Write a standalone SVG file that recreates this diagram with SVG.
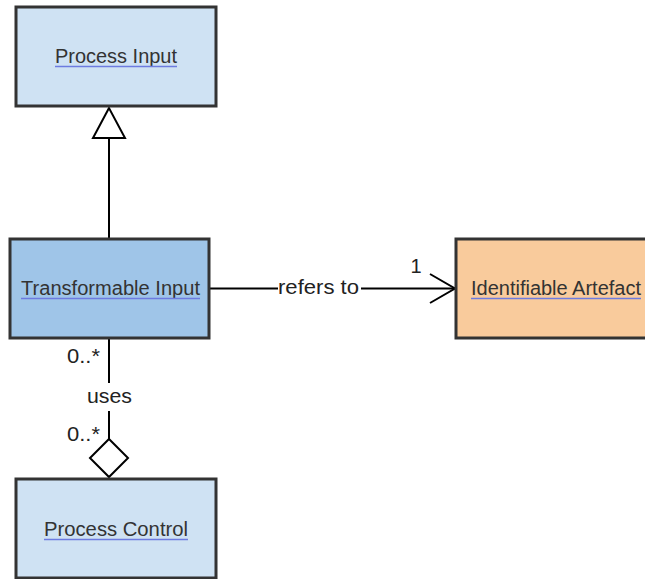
<svg xmlns="http://www.w3.org/2000/svg" width="645" height="579" viewBox="0 0 645 579">
<style>
.box{stroke:#333;stroke-width:3}
.lbl{font-family:"Liberation Sans",Arial,sans-serif;font-size:19.5px;fill:#333;text-anchor:middle}
.ul{stroke:#6d7be0;stroke-width:1.3}
.ln{stroke:#000;stroke-width:2;fill:none}
.t{font-family:"Liberation Sans",Arial,sans-serif;font-size:20px;fill:#222;text-anchor:middle}
</style>
<rect width="645" height="579" fill="#fff"/>
<g id="connectors">
<line class="ln" x1="109" y1="138" x2="109" y2="239"/>
<polygon points="109,108 93,138 125,138" fill="#fff" stroke="#000" stroke-width="2"/>
<line class="ln" x1="209" y1="288.5" x2="278" y2="288.5"/>
<line class="ln" x1="361" y1="288.5" x2="455" y2="288.5"/>
<polyline class="ln" points="430,274 455,288.5 430,303"/>
<text class="t" x="318.5" y="294" textLength="81" lengthAdjust="spacingAndGlyphs">refers to</text>
<text class="t" x="416" y="273">1</text>
<line class="ln" x1="109" y1="338" x2="109" y2="383"/>
<text class="t" x="109.5" y="403" textLength="45" lengthAdjust="spacingAndGlyphs">uses</text>
<line class="ln" x1="109" y1="411" x2="109" y2="439"/>
<polygon points="109,439 128,458 109,477 90,458" fill="#fff" stroke="#000" stroke-width="2"/>
<text class="t" x="83.5" y="363" textLength="33" lengthAdjust="spacingAndGlyphs">0..*</text>
<text class="t" x="83.5" y="441" textLength="33" lengthAdjust="spacingAndGlyphs">0..*</text>
</g>
<g id="process-input">
<rect class="box" x="16" y="7" width="200" height="99" fill="#cfe2f3"/>
<text class="lbl" x="116" y="63" textLength="122" lengthAdjust="spacingAndGlyphs">Process Input</text>
<line class="ul" x1="55" y1="66.5" x2="177" y2="66.5"/>
</g>
<g id="transformable-input">
<rect class="box" x="10" y="239" width="199" height="99" fill="#9fc5e8"/>
<text class="lbl" x="110.5" y="295" textLength="179" lengthAdjust="spacingAndGlyphs">Transformable Input</text>
<line class="ul" x1="21" y1="298.5" x2="200" y2="298.5"/>
</g>
<g id="identifiable-artefact">
<rect class="box" x="456" y="239" width="200" height="99" fill="#f9cb9c"/>
<text class="lbl" x="556" y="295" textLength="170" lengthAdjust="spacingAndGlyphs">Identifiable Artefact</text>
<line class="ul" x1="471" y1="298.5" x2="641" y2="298.5"/>
</g>
<g id="process-control">
<rect class="box" x="16" y="479" width="200" height="99" fill="#cfe2f3"/>
<text class="lbl" x="116" y="536" textLength="144" lengthAdjust="spacingAndGlyphs">Process Control</text>
<line class="ul" x1="44" y1="539.5" x2="188" y2="539.5"/>
</g>
</svg>
